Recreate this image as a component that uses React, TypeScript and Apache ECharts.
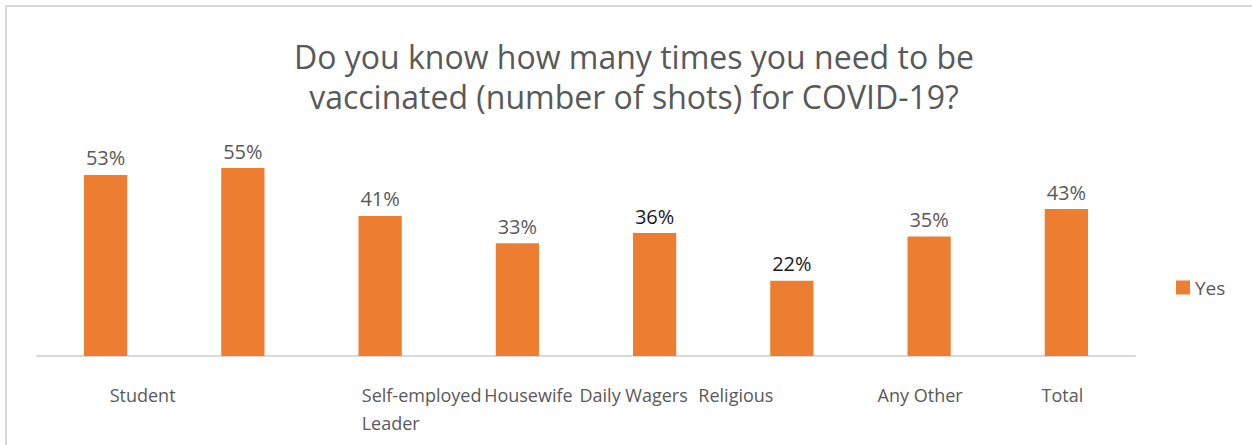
import React, { useEffect, useRef } from "react";
import * as echarts from "echarts";

const categories = ["Student", "", "Self-employed\nLeader", "Housewife", "Daily Wagers", "Religious", "Any Other", "Total"];
const yesValues = [53, 55, 41, 33, 36, 22, 35, 43];
const seriesName = "Yes";
const titleText = "Do you know how many times you need to be\nvaccinated (number of shots) for COVID-19?";

// label shifts (px) relative to category centre, per line: [padLeft, padRight]
const labelPads: Record<string, [number, number]> = {
  "Student": [74, 0],
  "Self-employed": [83, 0],
  "Leader": [21, 0],
  "Housewife": [22, 0],
  "Daily Wagers": [0, 42],
  "Religious": [0, 112],
  "Any Other": [0, 18],
  "Total": [0, 8],
};

export default function App() {
  const ref = useRef<HTMLDivElement>(null);
  useEffect(() => {
    document.body.style.margin = "0";
    const chart = echarts.init(ref.current!, null, { renderer: "svg" });
    const font = "'Open Sans', sans-serif";
    const rich: Record<string, any> = {};
    const keys: Record<string, string> = {};
    Object.keys(labelPads).forEach((k, i) => {
      const key = "l" + i;
      keys[k] = key;
      const [pl, pr] = labelPads[k];
      rich[key] = {
        padding: [0, pr, 0, pl],
        fontSize: 18,
        fontFamily: font,
        color: "#595959",
        lineHeight: 28,
      };
    });
    chart.setOption({
      animation: false,
      backgroundColor: "#ffffff",
      graphic: [
        {
          type: "polyline",
          shape: { points: [[6, 445], [6, 6], [1252, 6]] },
          style: { stroke: "#d9d9d9", lineWidth: 2, fill: null },
        },
        {
          type: "text",
          x: 634,
          y: 36,
          style: {
            text: titleText,
            fontFamily: font,
            fontSize: 32,
            lineHeight: 40,
            fill: "#595959",
            align: "center",
            verticalAlign: "top",
          },
        },
      ],
      legend: {
        data: [seriesName],
        left: 1176,
        top: 278,
        padding: 0,
        itemWidth: 14,
        itemHeight: 14,
        itemGap: 5,
        icon: "rect",
        textStyle: { fontFamily: font, fontSize: 19, color: "#595959", padding: [8, 0, 0, 0] },
      },
      grid: { left: 37, right: 117, top: 151, bottom: 89, containLabel: false },
      xAxis: {
        type: "category",
        data: categories,
        axisLine: { lineStyle: { color: "#d9d9d9", width: 2 } },
        axisTick: { show: false },
        axisLabel: {
          interval: 0,
          margin: 25,
          align: "center",
          verticalAlign: "top",
          formatter: (v: string) =>
            v
              .split("\n")
              .map((line) => (line && keys[line] ? `{${keys[line]}|${line}}` : line))
              .join("\n"),
          rich,
        },
      },
      yAxis: {
        type: "value",
        min: 0,
        max: 60,
        show: false,
        splitLine: { show: false },
      },
      series: [
        {
          name: seriesName,
          type: "bar",
          data: yesValues.map((v, i) => ({
            value: v,
            label: { color: i === 4 || i === 5 ? "#1a1a1a" : "#595959" },
          })),
          barWidth: "31.5%",
          itemStyle: { color: "#ED7D31" },
          label: {
            show: true,
            position: "top",
            distance: 7,
            formatter: "{c}%",
            fontFamily: font,
            fontSize: 20,
            color: "#595959",
          },
        },
      ],
    });
    return () => chart.dispose();
  }, []);
  return <div ref={ref} style={{ width: 1252, height: 445 }} />;
}
